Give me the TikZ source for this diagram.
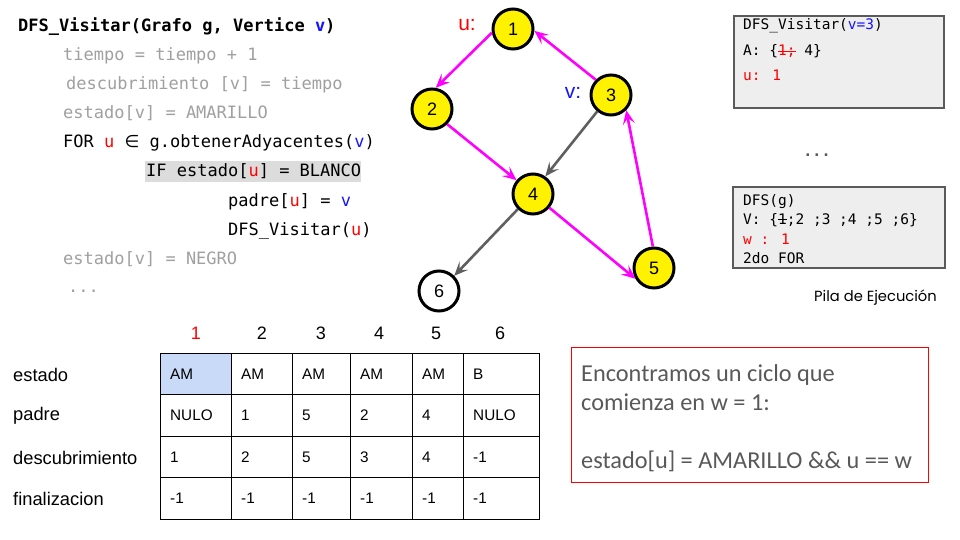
\documentclass[tikz,border=0pt]{standalone}
\usepackage{fontspec}
\setmainfont{Liberation Sans}
\newfontfamily\codef{DejaVu Sans Mono}
\newfontfamily\symf{DejaVu Sans}
\newfontfamily\calib{Carlito}
\newfontfamily\pilaf{Poppins}
\usetikzlibrary{arrows.meta}
\definecolor{mag}{RGB}{255,0,255}
\definecolor{codegray}{RGB}{160,160,160}
\definecolor{edgegray}{RGB}{95,95,95}
\definecolor{uRed}{RGB}{255,0,0}
\definecolor{vBlue}{RGB}{20,20,255}
\definecolor{hlgray}{RGB}{220,220,220}
\definecolor{boxfill}{RGB}{238,238,238}
\definecolor{boxdraw}{RGB}{90,90,90}
\definecolor{cellblue}{RGB}{201,218,248}
\definecolor{notegray}{RGB}{89,89,89}
\newcommand{\ru}{{\color{uRed}u}}
\newcommand{\bv}{{\color{vBlue}v}}
\begin{document}
\begin{tikzpicture}[x=1pt,y=-1pt,
  code/.style={font=\codef\fontsize{17}{20}\selectfont, anchor=base west, inner sep=0},
  stk/.style={font=\codef\fontsize{14.5}{17}\selectfont, anchor=base west, inner sep=0},
  gnode/.style={circle, draw=black, line width=3pt, fill=yellow, minimum size=40pt, inner sep=0, font=\fontsize{18}{21}\selectfont},
  tip/.style={-{Stealth[length=14pt,width=12pt,inset=6pt]}},
  medge/.style={draw=mag, line width=2.6pt, tip},
  gedge/.style={draw=edgegray, line width=2.6pt, tip},
  cell/.style={anchor=west, inner sep=0, font=\fontsize{15.3}{18}\selectfont},
  rowlab/.style={anchor=west, inner sep=0, font=\fontsize{18.3}{21}\selectfont},
  colhead/.style={inner sep=0, font=\fontsize{18}{21}\selectfont},
  note/.style={anchor=base west, inner sep=0, text=notegray, font=\calib\fontsize{24.3}{28}\selectfont},
  stackbox/.style={draw=boxdraw, fill=boxfill, line width=1.2pt}
]
\useasboundingbox[fill=white] (0,0) rectangle (960,540);

% ---------- pseudo-code ----------
\fill[hlgray] (145,161) rectangle (361,182);
\node[code, font=\codef\bfseries\fontsize{17}{20}\selectfont] (title) at (18,32) {DFS\_Visitar(Grafo g, Vertice \bv)};
\node[code, text=codegray] (c1) at (63,61) {tiempo = tiempo + 1};
\node[code, text=codegray] (c2) at (66,90) {descubrimiento [v] = tiempo};
\node[code, text=codegray] (c3) at (63,119) {estado[v] = AMARILLO};
\node[code] (c4) at (63,148) {FOR \ru\ {\symf ∈} g.obtenerAdyacentes(\bv)};
\node[code] (c5) at (146,177) {IF estado[\ru] = BLANCO};
\node[code] (c6) at (228,206) {padre[\ru] = \bv};
\node[code] (c7) at (228,235) {DFS\_Visitar(\ru)};
\node[code, text=codegray] (c8) at (63,264) {estado[v] = NEGRO};
\node[code, text=codegray] (c9) at (68,292) {...};

% ---------- graph ----------
\node[gnode] (n1) at (513,29) {1};
\node[gnode] (n2) at (432,109) {2};
\node[gnode] (n3) at (611,95) {3};
\node[gnode] (n4) at (533,194) {4};
\node[gnode] (n5) at (654,268) {5};
\node[gnode, fill=white] (n6) at (439,291) {6};
\node[text=uRed, font=\fontsize{21}{25}\selectfont, inner sep=0] (ul) at (467,25) {u:};
\node[text=vBlue, font=\fontsize{21}{25}\selectfont, inner sep=0] (vl) at (573,93) {v:};

\draw[medge] (n1.190) -- (n2.80);
\draw[medge] (n3.135) -- (n1.-5);
\draw[medge] (n2.-45) -- (n4.140);
\draw[gedge] (n3.-130) -- (n4.55);
\draw[medge] (n4.-40) -- (n5.-150);
\draw[medge] (n5.93) -- (n3.-45);
\draw[gedge] (n4.-135) -- (n6.45);

% ---------- execution stack ----------
\draw[stackbox] (734,16) rectangle (944,108);
\node[stk] (s1a) at (743,30) {DFS\_Visitar({\color{vBlue}v=3})};
\node[stk] (s1b) at (743,56) {A: \{{\color{uRed}1;}\rlap{\kern-1.2em\color{uRed}\rule[0.3em]{1.2em}{0.9pt}} 4\}};
\node[stk, text=uRed] (s1c) at (743,81) {u: 1};
\node[font=\codef\bfseries\fontsize{15}{17}\selectfont, text=boxdraw, inner sep=0] (dots) at (817,155) {...};
\draw[stackbox] (733,187) rectangle (945,268);
\node[stk] (s2a) at (743,205) {DFS(g)};
\node[stk] (s2b) at (743,224) {V: \{\rlap{\rule[0.3em]{0.6em}{0.7pt}}1;2 ;3 ;4 ;5 ;6\}};
\node[stk, text=uRed] (s2c) at (743,244) {w : 1};
\node[stk] (s2d) at (743,263) {2do FOR};
\node[anchor=west, inner sep=0, font=\pilaf\fontsize{14.7}{17}\selectfont] (pila) at (814,298) {Pila de Ejecución};

% ---------- table ----------
\fill[cellblue] (160,353) rectangle (231,394);
\draw[black, line width=0.9pt] (160,353) rectangle (539,519);
\foreach \yy in {394,436,477} \draw[black, line width=0.9pt] (160,\yy) -- (539,\yy);
\foreach \xx in {231,292,350,412,463} \draw[black, line width=0.9pt] (\xx,353) -- (\xx,519);

\node[colhead, text=uRed] (h1) at (196,333) {1};
\node[colhead] (h2) at (262,333) {2};
\node[colhead] (h3) at (321,333) {3};
\node[colhead] (h4) at (379,333) {4};
\node[colhead] (h5) at (436,333) {5};
\node[colhead] (h6) at (500,333) {6};

\node[rowlab] (r1) at (13,375) {estado};
\node[rowlab] (r2) at (13,416) {padre};
\node[rowlab] (r3) at (13,458) {descubrimiento};
\node[rowlab] (r4) at (13,499) {finalizacion};

\foreach \x/\a/\b/\c/\d in {170/AM/NULO/1/-1, 241/AM/1/2/-1, 302/AM/5/5/-1, 360/AM/2/3/-1, 422/AM/4/4/-1, 473/B/NULO/-1/-1}{
  \node[cell] at (\x,374) {\a};
  \node[cell] at (\x,415) {\b};
  \node[cell] at (\x,457) {\c};
  \node[cell] at (\x,498) {\d};
}

% ---------- note ----------
\draw[uRed, line width=1pt] (571,347) rectangle (928,482);
\node[note] (t1) at (581,381) {Encontramos un ciclo que};
\node[note] (t2) at (581,410) {comienza en w = 1:};
\node[note] (t3) at (581,468) {estado[u] = AMARILLO \&\& u == w};
\end{tikzpicture}
\end{document}
